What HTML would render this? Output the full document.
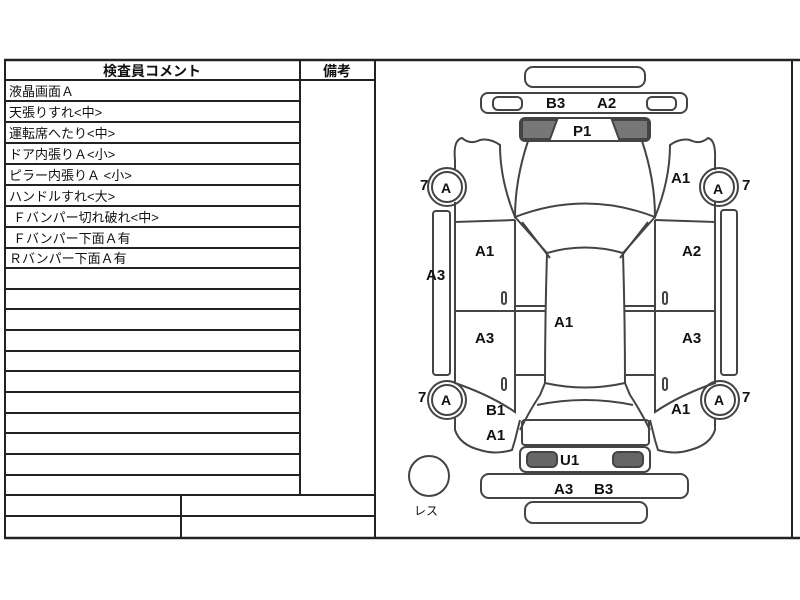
<!DOCTYPE html>
<html><head><meta charset="utf-8"><style>
html,body{margin:0;padding:0;background:#fff;width:800px;height:600px;overflow:hidden}
svg{position:absolute;left:0;top:0}
text{font-family:"Liberation Sans","Noto Sans CJK JP",sans-serif;fill:#111}
</style></head><body>
<svg width="800" height="600" viewBox="0 0 800 600">
<g stroke="#222" stroke-width="2" fill="none">
<!-- frame -->
<line x1="4" y1="60" x2="800" y2="60" stroke-width="2.5"/>
<line x1="5" y1="60" x2="5" y2="539"/>
<line x1="4" y1="538" x2="800" y2="538" stroke-width="2.5"/>
<line x1="375" y1="60" x2="375" y2="538"/>
<line x1="792" y1="60" x2="792" y2="538"/>
<line x1="300" y1="60" x2="300" y2="495"/>
<line x1="5" y1="80" x2="375" y2="80"/>
<line x1="5" y1="101" x2="300" y2="101"/>
<line x1="5" y1="122" x2="300" y2="122"/>
<line x1="5" y1="143" x2="300" y2="143"/>
<line x1="5" y1="164" x2="300" y2="164"/>
<line x1="5" y1="185" x2="300" y2="185"/>
<line x1="5" y1="206" x2="300" y2="206"/>
<line x1="5" y1="227" x2="300" y2="227"/>
<line x1="5" y1="248" x2="300" y2="248"/>
<line x1="5" y1="268" x2="300" y2="268"/>
<line x1="5" y1="289" x2="300" y2="289"/>
<line x1="5" y1="309" x2="300" y2="309"/>
<line x1="5" y1="330" x2="300" y2="330"/>
<line x1="5" y1="351" x2="300" y2="351"/>
<line x1="5" y1="371" x2="300" y2="371"/>
<line x1="5" y1="392" x2="300" y2="392"/>
<line x1="5" y1="413" x2="300" y2="413"/>
<line x1="5" y1="433" x2="300" y2="433"/>
<line x1="5" y1="454" x2="300" y2="454"/>
<line x1="5" y1="475" x2="300" y2="475"/>
<line x1="5" y1="495" x2="375" y2="495"/>
<line x1="5" y1="516" x2="375" y2="516"/>
<line x1="181" y1="495" x2="181" y2="538"/>
</g>
<g font-size="13">
<text x="152" y="76" text-anchor="middle" font-weight="bold" font-size="14">検査員コメント</text>
<text x="337" y="76" text-anchor="middle" font-weight="bold" font-size="14">備考</text>
<text x="9" y="96">液晶画面Ａ</text>
<text x="9" y="117">天張りすれ&lt;中&gt;</text>
<text x="9" y="138">運転席へたり&lt;中&gt;</text>
<text x="9" y="159">ドア内張りＡ&lt;小&gt;</text>
<text x="9" y="180">ピラー内張りＡ &lt;小&gt;</text>
<text x="9" y="201">ハンドルすれ&lt;大&gt;</text>
<text x="13" y="222">Ｆバンパー切れ破れ&lt;中&gt;</text>
<text x="13" y="243">Ｆバンパー下面Ａ有</text>
<text x="9" y="263">Ｒバンパー下面Ａ有</text>
</g>
<!-- car diagram -->
<g stroke="#444" stroke-width="2" fill="none">
<rect x="525" y="67" width="120" height="20" rx="8"/>
<rect x="481" y="93" width="206" height="20" rx="7"/>
<rect x="493" y="97" width="29" height="13" rx="5"/>
<rect x="647" y="97" width="29" height="13" rx="5"/>
<rect x="520" y="118" width="130" height="23" rx="5"/>
<path d="M522 120 L557 120 L550 139 L522 139 Z" fill="#777"/>
<path d="M612 120 L648 120 L648 139 L619 139 Z" fill="#777"/>
<!-- hood -->
<path d="M528 141 Q515 180 515 217 Q585 190 655 217 Q655 180 642 141"/>
<!-- windshield -->
<path d="M515 217 L547 253 Q585 242 623 253 L655 217"/>
<path d="M522 222 L550 258 M648 222 L620 258"/>
<!-- roof/cabin -->
<path d="M547 253 Q545 320 545 383 Q585 392 625 383 Q625 320 623 253"/>
<path d="M545 383 L540 395 Q530 410 520 430 M625 383 L630 395 Q640 410 650 430"/>
<path d="M537 405 Q585 395 633 405"/>
<!-- trunk -->
<rect x="522" y="420" width="127" height="25" rx="3"/>
<rect x="520" y="447" width="130" height="25" rx="6"/>
<rect x="527" y="452" width="30" height="15" rx="5" fill="#666"/>
<rect x="613" y="452" width="30" height="15" rx="5" fill="#666"/>
<rect x="481" y="474" width="207" height="24" rx="8"/>
<rect x="525" y="502" width="122" height="21" rx="8"/>
<!-- left fender -->
<path d="M515 217 Q500 180 500 145 Q490 138 480 140 Q470 145 462 138 Q453 140 455 160 L455 170"/>
<path d="M455 202 L455 222 L515 220"/>
<!-- left doors -->
<path d="M455 222 L455 383 Q490 395 515 412 L515 220"/>
<line x1="455" y1="311" x2="545" y2="311"/>
<line x1="515" y1="306" x2="545" y2="306"/>
<line x1="515" y1="375" x2="545" y2="375"/>
<!-- right -->
<path d="M655 217 Q670 180 670 145 Q680 138 690 140 Q700 145 708 138 Q716 140 715 160 L715 170"/>
<path d="M715 202 L715 222 L655 220"/>
<path d="M715 222 L715 383 Q680 395 655 412 L655 220"/>
<line x1="625" y1="311" x2="715" y2="311"/>
<line x1="625" y1="306" x2="655" y2="306"/>
<line x1="625" y1="375" x2="655" y2="375"/>
<!-- rear quarters -->
<path d="M455 418 L455 430 Q460 445 480 450 Q495 455 512 450 L515 440 L520 420"/>
<path d="M715 418 L715 430 Q710 445 690 450 Q675 455 658 450 L655 440 L650 420"/>
<!-- side bars -->
<rect x="433" y="211" width="17" height="164" rx="3"/>
<rect x="721" y="210" width="16" height="165" rx="3"/>
<!-- wheels -->
<circle cx="447" cy="187" r="19"/><circle cx="447" cy="187" r="15" fill="#fff"/>
<circle cx="719" cy="187" r="19"/><circle cx="719" cy="187" r="15" fill="#fff"/>
<circle cx="447" cy="400" r="19"/><circle cx="447" cy="400" r="15" fill="#fff"/>
<circle cx="720" cy="400" r="19"/><circle cx="720" cy="400" r="15" fill="#fff"/>
<circle cx="429" cy="476" r="20"/>
<rect x="502" y="292" width="4" height="12" rx="2"/>
<rect x="502" y="378" width="4" height="12" rx="2"/>
<rect x="663" y="292" width="4" height="12" rx="2"/>
<rect x="663" y="378" width="4" height="12" rx="2"/>
</g>
<g font-size="15" font-weight="bold">
<text x="546" y="108">B3</text><text x="597" y="108">A2</text>
<text x="573" y="136">P1</text>
<text x="420" y="190">7</text><text x="441" y="193" font-size="14">A</text>
<text x="671" y="183">A1</text><text x="713" y="194" font-size="14">A</text><text x="742" y="190">7</text>
<text x="475" y="256">A1</text><text x="682" y="256">A2</text>
<text x="426" y="280">A3</text>
<text x="554" y="327">A1</text>
<text x="475" y="343">A3</text><text x="682" y="343">A3</text>
<text x="418" y="402">7</text><text x="441" y="405" font-size="14">A</text>
<text x="671" y="414">A1</text><text x="714" y="405" font-size="14">A</text><text x="742" y="402">7</text>
<text x="486" y="415">B1</text>
<text x="486" y="440">A1</text>
<text x="560" y="465">U1</text>
<text x="554" y="494">A3</text><text x="594" y="494">B3</text>
<text x="414" y="515" font-size="12" font-weight="normal">レス</text>
</g>
</svg>
</body></html>
